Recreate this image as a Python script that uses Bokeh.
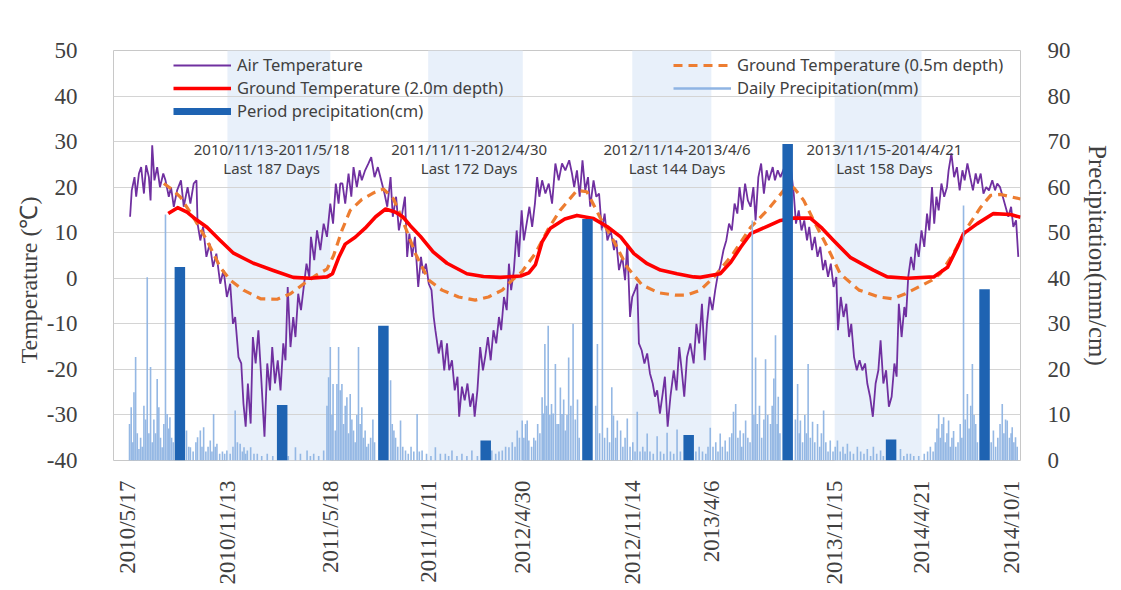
import math
import numpy as np
import pandas as pd
from bokeh.plotting import figure
from bokeh.models import (Range1d, LinearAxis, FixedTicker, Legend, LegendItem,
                          BoxAnnotation, ColumnDataSource, Title)
from bokeh.core.properties import value
from bokeh.embed import file_html
from bokeh.resources import INLINE

# ---------------- data ----------------
START = "2010/5/17"
tick_dates = ["2010/5/17", "2010/11/13", "2011/5/18", "2011/11/11", "2012/4/30",
              "2012/11/14", "2013/4/6", "2013/11/15", "2014/4/21", "2014/10/1"]
freeze_start = ["2010/11/13", "2011/11/11", "2012/11/14", "2013/11/15"]
freeze_end = ["2011/5/18", "2012/4/30", "2013/4/6", "2014/4/21"]
freeze_label_day = [260, 617, 993, 1368]   # centre of each period caption (days from start)

temp_ticks = [-40, -30, -20, -10, 0, 10, 20, 30, 40, 50]
precip_ticks = [0, 10, 20, 30, 40, 50, 60, 70, 80, 90]

# Air temperature (days since 2010/5/17, degC)
air_day = [4, 7, 12, 15, 20, 24, 29, 33, 38, 41, 44, 48, 53, 58, 64, 68, 74, 78, 83, 89, 96, 101, 108, 113,
           119, 124, 126, 131, 136, 142, 148, 154, 160, 167, 173, 179, 185, 190, 194, 200, 205, 209, 213, 217,
           222, 226, 231, 236, 241, 247, 252, 257, 261, 266, 271, 276, 281, 285, 289, 294, 299, 303, 308, 313,
           318, 323, 328, 331, 337, 342, 348, 354, 360, 366, 371, 376, 381, 384,
           388, 393, 399, 404, 408, 414, 419, 423, 429, 435, 440, 446, 452, 458, 464, 469, 475, 479, 485, 490,
           495, 501, 505, 509, 514, 519, 525, 530, 534, 539, 544, 549, 553, 556, 562, 567, 572, 577, 581, 586,
           591, 596, 599, 604, 609, 614, 619, 624, 627, 632, 637, 642, 646, 651, 656, 661, 666, 671, 675, 680,
           685, 689, 693, 698, 703, 707, 712, 716, 721, 726, 731, 736, 740, 744, 749, 755, 761, 767, 773, 779,
           785, 791,
           798, 803, 807, 812, 817, 822, 827, 832, 836, 842, 847, 852, 857, 862, 867, 873, 879, 883, 888, 894,
           899, 903, 908, 912, 917, 921, 924, 929, 934, 939, 944, 949, 953, 957, 962, 967, 971, 976, 981, 987,
           992, 997, 1002, 1006, 1011, 1017, 1023, 1028, 1033, 1038, 1043, 1047, 1052, 1057, 1062, 1067, 1071,
           1077, 1082, 1087, 1092, 1097, 1102, 1106, 1111, 1116, 1121, 1126, 1131, 1135, 1140, 1145, 1150,
           1155, 1159, 1166, 1170, 1175, 1180, 1186, 1192, 1198,
           1204, 1208, 1213, 1218, 1223, 1228, 1232, 1237, 1242, 1247, 1252, 1257, 1261, 1266, 1271, 1276,
           1281, 1284, 1289, 1294, 1299, 1304, 1308, 1313, 1318, 1323, 1328, 1333, 1337, 1342, 1347, 1352,
           1357, 1361, 1366, 1371, 1376, 1381, 1386, 1390, 1394, 1399, 1404, 1407, 1411, 1416, 1421, 1425,
           1430, 1435, 1440, 1445, 1449, 1454, 1458, 1462, 1466, 1471, 1476, 1481, 1484, 1489, 1494, 1499,
           1504, 1509, 1513, 1518, 1523, 1528, 1533, 1537, 1542, 1547, 1552, 1557, 1563, 1568, 1572, 1577,
           1582, 1587, 1592, 1597, 1601, 1606, 1610]
air_temp = [13.5, 19.3, 22.2, 17.9, 23.0, 24.4, 18.6, 24.8, 22.2, 17.1, 29.2, 21.5, 24.4, 20.0, 23.0, 21.5,
            17.9, 20.0, 15.7, 19.3, 21.5, 15.7, 20.0, 16.4, 20.8, 21.5, 12.0, 8.3, 11.3, 4.7, 7.6, 2.5, 5.4,
            -1.2, 1.8, -4.1, -1.2, -10.0, -8.5, -17.3, -18.7, -27.5, -32.6, -23.1, -31.9, -12.9, -18.7, -11.4,
            -21.6, -34.8, -18.7, -24.6, -15.1, -23.1, -18.0, -24.6, -14.3, -18.0, -1.9, -15.1, -8.5, -12.9,
            -3.4, -7.0, -1.9, 3.2, 0.3, 9.1, 4.0, 10.5, 6.2, 12.0, 9.1, 16.4, 12.0, 20.8, 16.4, 20.8,
            20.8, 16.4, 23.0, 17.9, 24.4, 20.0, 23.7, 21.5, 23.7, 25.2, 26.6, 22.2, 24.4, 21.5, 18.6, 15.7,
            22.2, 13.5, 17.9, 10.5, 13.5, 17.9, 4.7, 9.8, 4.7, 9.1, -1.9, 4.7, 1.1, 3.2, -1.2, -2.6, -8.5,
            -11.4, -16.5, -13.6, -20.2, -14.3, -20.2, -18.0, -24.6, -21.6, -30.4, -23.8, -26.8, -23.1, -28.2,
            -25.3, -30.4, -24.6, -15.1, -20.2, -17.3, -12.9, -18.0, -11.4, -14.3, -8.5, -11.4, -4.1, -7.0,
            3.2, -2.6, 1.8, 10.5, 4.7, 14.9, 8.3, 12.0, 15.7, 11.3, 16.4, 22.2, 17.9, 21.5, 18.6, 20.8, 16.4,
            25.2, 21.5, 25.2, 23.7,
            25.9, 23.0, 20.0, 23.7, 17.9, 25.9, 19.3, 22.2, 15.7, 21.5, 17.9, 18.6, 10.5, 14.2, 8.3, 10.5,
            6.2, 8.3, 1.8, 4.7, -0.4, 7.6, -8.5, -4.1, -2.6, -1.2, -14.3, -15.8, -18.7, -16.5, -20.9, -23.1,
            -26.0, -24.6, -29.7, -25.3, -21.6, -32.6, -26.0, -20.2, -24.6, -15.1, -20.9, -26.0, -17.3, -14.3,
            -18.7, -10.0, -14.3, -5.6, -18.0, -10.0, -4.1, -7.0, -2.6, 1.0, 2.5, 6.2, 8.3, 12.0, 10.5, 16.4,
            14.2, 20.0, 15.0, 20.8, 17.1, 15.7, 20.0, 12.7, 22.2, 25.2, 18.6, 23.7, 21.5, 24.4, 21.5, 23.7,
            22.2, 24.0, 21.0, 25.0,
            18.6, 12.0, 14.9, 10.5, 12.7, 8.3, 11.3, 6.2, 9.1, 4.7, 6.9, 1.8, 4.0, 0.3, 3.2, -1.9, 0.3, -11.4,
            -4.1, -8.5, -5.6, -12.9, -10.0, -17.3, -20.2, -18.0, -20.2, -18.7, -23.1, -26.0, -30.4, -23.1,
            -20.2, -13.6, -23.1, -20.2, -28.2, -26.0, -18.7, -21.6, -5.6, -12.9, -6.3, -8.5, 0.3, 4.7, 1.8,
            7.6, 4.7, 10.5, 6.9, 14.2, 10.5, 20.0, 12.0, 17.9, 14.9, 20.8, 17.9, 20.0, 23.7, 27.4, 22.2, 24.4,
            19.3, 23.7, 21.5, 25.2, 22.2, 19.3, 23.0, 20.8, 23.0, 18.6, 20.0, 19.3, 21.5, 19.3, 20.8, 20.0,
            17.9, 15.7, 13.5, 15.7, 11.3, 12.7, 4.7]

# Ground temperature, 2.0 m depth
g20_day = [73, 90, 107, 119, 143, 167, 191, 227, 263, 299, 330, 360, 370, 381, 393, 411, 429, 448, 466,
           484, 497, 511, 529, 552, 577, 613, 643, 673, 710, 725, 737, 749, 764, 790, 812, 842, 867, 891,
           915, 939, 963, 993, 1023, 1035, 1071, 1090, 1108, 1126, 1156, 1180, 1204, 1234, 1255, 1276,
           1306, 1348, 1373, 1410, 1457, 1482, 1500, 1511, 1536, 1565, 1596, 1614]
g20_temp = [14.2, 15.5, 14.5, 13.3, 11.2, 8.3, 5.5, 3.3, 1.7, 0.2, 0.0, 0.3, 1.0, 4.5, 7.5, 9.0, 11.0, 13.5,
            15.2, 14.5, 13.5, 11.5, 9.2, 5.8, 3.3, 1.0, 0.4, 0.2, 0.5, 1.2, 3.0, 8.0, 11.0, 13.0, 13.8, 13.1,
            11.3, 9.1, 5.4, 3.2, 1.8, 1.0, 0.3, 0.2, 1.0, 3.5, 6.8, 9.8, 11.4, 12.7, 13.2, 13.2, 11.0, 8.3,
            4.6, 1.8, 0.3, 0.0, 0.3, 2.4, 6.8, 9.8, 12.0, 14.2, 14.0, 13.4]

# Ground temperature, 0.5 m depth
g05_day = [65, 80, 95, 119, 143, 167, 185, 209, 240, 270, 294, 318, 342, 360, 372, 387, 402, 423, 445,
           462, 480, 496, 520, 544, 568, 598, 628, 652, 677, 695, 713, 737, 761, 782, 812, 830, 854, 878,
           903, 930, 960, 990, 1011, 1035, 1060, 1095, 1126, 1156, 1186, 1204, 1222, 1240, 1265, 1288,
           1322, 1358, 1382, 1406, 1430, 1454, 1469, 1493, 1518, 1542, 1560, 1578, 1614]
g05_temp = [20.8, 19.5, 17.8, 13.3, 8.3, 2.4, -0.4, -2.6, -4.5, -4.6, -3.4, -1.2, 0.8, 2.0, 5.0, 10.5,
            14.9, 17.3, 18.8, 19.6, 17.5, 13.0, 5.4, -0.4, -2.6, -4.1, -4.8, -4.1, -2.6, -0.4, 1.5, 5.5,
            11.0, 15.0, 19.3, 19.0, 13.3, 8.3, 2.4, -1.5, -3.2, -3.7, -3.7, -2.6, 0.3, 5.5, 11.2, 14.9,
            19.3, 19.9, 17.1, 12.7, 6.8, 1.0, -2.6, -4.1, -4.5, -3.4, -1.9, -0.4, 1.0, 5.5, 11.2, 15.6,
            18.2, 18.4, 17.4]

# Daily precipitation (mm)
rain_day = [3, 6, 9, 11, 14, 17, 20, 23, 26, 29, 32, 35, 38, 41, 44, 47, 50, 53, 56, 59, 62, 65, 68, 71,
            74, 76, 79, 82, 106, 110, 113, 118, 123, 126, 131, 134, 137, 141, 145, 149, 152, 155, 158, 161,
            166, 171, 175, 179, 185, 190, 194, 198, 203, 207, 210, 213, 216, 222, 228, 234, 242, 252, 262,
            290, 303, 312, 324, 330, 336, 345, 354, 360, 363, 366, 369, 371, 375, 378, 381, 384, 387, 390,
            393, 396, 399, 402, 405, 408, 411, 414, 417, 420, 423, 426, 429, 432, 435, 439, 443, 446,
            475, 478, 481, 484, 488, 493, 497, 502, 507, 512, 517, 523, 527, 532, 540, 548, 556, 565, 574,
            580, 586, 595, 604, 613, 622, 632, 640, 658, 665, 671, 677, 683, 689, 695, 700, 704, 708, 713,
            716, 719, 722, 725, 730, 734, 737, 741, 745, 749, 751, 754, 757, 760, 763, 766, 769, 773, 776,
            779, 782, 785, 788, 791, 794, 797, 801, 805, 809, 813, 816,
            846, 849, 853, 858, 862, 867, 871, 875, 878, 882, 885, 891, 895, 899, 903, 908, 913, 917, 921,
            926, 931, 935, 939, 944, 950, 957, 963, 969, 975, 981, 987, 993, 999, 1027, 1033, 1039, 1045,
            1049, 1053, 1058, 1063, 1067, 1071, 1075, 1080, 1084, 1088, 1092, 1095, 1099, 1103, 1107, 1110,
            1113, 1117, 1121, 1125, 1129, 1132, 1135, 1138, 1142, 1146, 1150, 1153, 1157, 1162, 1165, 1168,
            1171, 1174, 1176, 1179,
            1207, 1211, 1214, 1216, 1220, 1224, 1227, 1230, 1234, 1238, 1242, 1247, 1251, 1254, 1258, 1262,
            1266, 1270, 1275, 1279, 1283, 1288, 1293, 1297, 1301, 1306, 1312, 1319, 1325, 1331, 1337, 1343,
            1348, 1354, 1361, 1366, 1397, 1403, 1409, 1415, 1421, 1430, 1440, 1446, 1451, 1456, 1460, 1463,
            1466, 1469, 1472, 1475, 1478, 1481, 1484, 1487, 1490, 1493, 1497, 1501, 1505, 1508, 1511, 1514,
            1518, 1521, 1524, 1527, 1530, 1533, 1536, 1561, 1565, 1569, 1573, 1577, 1581, 1584, 1587, 1590,
            1594, 1597, 1599, 1602, 1605, 1608]
rain_mm = [8, 11.7, 4, 15, 22.7, 6, 2.5, 5, 3, 12, 9, 40.2, 6, 20.5, 4, 9, 6, 17.9, 11.7, 5, 2.9, 8, 54,
           10.2, 7, 9.5, 5, 4, 6.6, 3, 2.9, 2, 4, 5.1, 6.6, 3, 7.3, 2, 3, 4.4, 2, 10.2, 3, 3.7, 1.5, 2, 1.5,
           2.2, 1.5, 3, 11, 4, 3.7, 2, 2.9, 1.5, 2.2, 2.9, 1.5, 1.5, 1, 1.5, 1, 1, 2.9, 1.5, 2.2, 1, 1.5, 1,
           2.2, 12, 18.3, 24.9, 10, 16.8, 6.6, 16.8, 24.9, 15.4, 16.8, 8, 12, 13.9, 6, 14.6, 9, 6.6, 4, 10,
           24.9, 8, 11.7, 5, 6.6, 3, 3.7, 5, 9, 4,
           17.6, 8, 6.6, 5, 3, 8.8, 3, 2.2, 1.5, 3, 2, 10.2, 2, 2.2, 1.5, 1, 2.9, 1.5, 1.5, 1, 2.2, 1, 1.5,
           1, 2.2, 1, 1.5, 2.2, 1.5, 2, 2.2, 3, 2.9, 4, 3, 6.6, 5, 8.8, 5, 8, 8.8, 4.4, 3, 5, 4.4, 8, 6,
           13.9, 10.3, 25.6, 12, 29.6, 10, 12.4, 10.3, 21.2, 8, 8, 16, 10.2, 13.4, 6.6, 10, 22.6, 12, 30, 9,
           13.4, 5,
           12, 25.6, 6, 51, 5, 7.2, 4, 16.1, 9.9, 5, 8.8, 6.6, 3, 5, 9.2, 3, 4, 2, 10.7, 2, 3, 2, 5.9, 2,
           1.5, 5.3, 2, 1.5, 6.1, 2, 1.5, 6.8, 2, 2, 3, 2, 1.5, 3, 7.2, 3, 4, 2, 5.9, 3, 4.4, 2, 5.1, 6,
           10.7, 12.4, 5, 6.6, 3, 6, 8.8, 5, 4, 52.7, 10, 22.6, 8, 12, 5, 9, 22.2, 10, 8, 12, 18, 27.5, 8,
           14, 6,
           9, 16.8, 6, 8.8, 4, 10, 6, 21.2, 5, 8.5, 4, 8, 3, 6, 11, 4, 2, 4.4, 2, 3, 4.4, 2, 3, 1.5, 3.7,
           2, 1.5, 3, 2, 1.5, 2.5, 1, 3, 1.5, 2.2, 1, 2.5, 1, 1.5, 1.5, 1, 1, 1.5, 2, 3, 2, 4, 7, 10.2, 5,
           8, 9.5, 4, 6, 8.8, 3, 5, 6.5, 3, 4, 8, 5, 56, 9, 14.6, 7, 12, 21.2, 10, 8, 4, 4, 6.6, 3, 5, 8,
           12.4, 6, 9, 8.8, 5, 6, 7.3, 4, 5.1, 3]

# Period precipitation (cm)
period_day = [94, 279, 462, 647, 831, 1014, 1193, 1380, 1549]
period_cm = [42.5, 12.2, 29.6, 4.4, 53.0, 5.6, 69.5, 4.6, 37.6]

# ---------------- helpers ----------------
t0 = pd.to_datetime(START, format="%Y/%m/%d")


def dday(s):
    return int((pd.to_datetime(s, format="%Y/%m/%d") - t0).days)


tick_days = [dday(s) for s in tick_dates]

SERIF = "Liberation Serif"
SANS = "Noto Sans"
TXT = "#404040"

p = figure(width=1121, height=590, output_backend="svg", toolbar_location=None,
           x_range=Range1d(-26, 1614), y_range=Range1d(-40, 50),
           min_border_left=113, min_border_right=101, min_border_top=50, min_border_bottom=130)
p.outline_line_color = "#c8c8c8"
p.background_fill_color = "white"
p.border_fill_color = "white"

# freezing-period bands
for s, e in zip(freeze_start, freeze_end):
    p.add_layout(BoxAnnotation(left=dday(s), right=dday(e), fill_color="#e8f0fa",
                               fill_alpha=1.0, line_color=None, level="image"))

# grid
p.xgrid.visible = False
p.ygrid.ticker = FixedTicker(ticks=temp_ticks)
p.ygrid.grid_line_color = "#d4d4d4"
p.ygrid.grid_line_width = 1

# lines
r_air = p.line(air_day, air_temp, line_color="#7030a0", line_width=1.8)
r_g05 = p.line(g05_day, g05_temp, line_color="#ed7d31", line_width=3.2, line_dash="9 6")
r_g20 = p.line(g20_day, g20_temp, line_color="#ff0000", line_width=3.6, line_join="round")

# precipitation on secondary axis
p.extra_y_ranges = {"precip": Range1d(0, 90)}
p.vbar(x=rain_day, top=rain_mm, bottom=0, width=2.9, fill_color="#8fb4e3", line_color=None,
       fill_alpha=0.95, y_range_name="precip")
p.vbar(x=period_day, top=period_cm, bottom=0, width=19, fill_color="#1e63b2", line_color=None,
       y_range_name="precip")

# proxies for legend glyphs (no visible data)
r_period_leg = p.line(x=[np.nan], y=[np.nan], line_color="#1e63b2", line_width=7)
r_daily_leg = p.line(x=[np.nan], y=[np.nan], line_color="#8fb4e3", line_width=2.5)

# axes
p.xaxis.ticker = FixedTicker(ticks=tick_days)
p.xaxis.major_label_overrides = {d: s for d, s in zip(tick_days, tick_dates)}
p.xaxis.major_label_orientation = math.pi / 2
p.xaxis.major_label_standoff = 14

p.yaxis.ticker = FixedTicker(ticks=temp_ticks)
p.yaxis.major_label_overrides = {t: str(t) for t in temp_ticks}
p.yaxis.major_label_standoff = 30

ax_r = LinearAxis(y_range_name="precip", ticker=FixedTicker(ticks=precip_ticks),
                  axis_label="Precipitation(mm/cm)")
p.add_layout(ax_r, "right")

for ax in [p.xaxis[0], p.yaxis[0], ax_r]:
    ax.axis_line_color = None
    ax.major_tick_line_color = None
    ax.minor_tick_line_color = None
    ax.major_label_text_font = SERIF
    ax.major_label_text_font_size = "23px"
    ax.major_label_text_color = TXT
    ax.axis_label_text_font = SERIF
    ax.axis_label_text_font_style = "normal"
    ax.axis_label_text_color = TXT
ax_r.axis_label_text_font_size = "25px"
ax_r.major_label_standoff = 21
ax_r.axis_label_standoff = 10

# left axis title, a little below centre as in the original
p.add_layout(Title(text="Temperature (℃)", align="left", offset=97,
                   text_font=SERIF, text_font_size="24px", text_font_style="normal",
                   text_color=TXT, standoff=4), "left")

# period captions
cap_src = ColumnDataSource(dict(
    x=freeze_label_day,
    t1=[f"{s}-{e}" for s, e in zip(freeze_start, freeze_end)],
    t2=[f"Last {dday(e) - dday(s) + 1} Days" for s, e in zip(freeze_start, freeze_end)],
    y1=[28.3] * 4, y2=[24.2] * 4))
p.text(x="x", y="y1", text="t1", source=cap_src, text_font=value(SANS), text_font_size="15px",
       text_color=TXT, text_align="center", text_baseline="middle")
p.text(x="x", y="y2", text="t2", source=cap_src, text_font=value(SANS), text_font_size="15px",
       text_color=TXT, text_align="center", text_baseline="middle")


# legends
def make_legend(items, loc):
    lg = Legend(items=items, location=loc, orientation="vertical")
    lg.background_fill_alpha = 0
    lg.border_line_alpha = 0
    lg.padding = 0
    lg.margin = 0
    lg.spacing = 0
    lg.glyph_width = 58
    lg.glyph_height = 20
    lg.label_height = 20
    lg.label_standoff = 6
    lg.label_text_font = SANS
    lg.label_text_font_size = "16.5px"
    lg.label_text_color = TXT
    return lg


leg1 = make_legend([LegendItem(label="Air Temperature", renderers=[r_air]),
                    LegendItem(label="Ground Temperature (2.0m depth)", renderers=[r_g20]),
                    LegendItem(label="Period precipitation(cm)", renderers=[r_period_leg])],
                   (60, 338))
leg2 = make_legend([LegendItem(label="Ground Temperature (0.5m depth)", renderers=[r_g05]),
                    LegendItem(label="Daily Precipitation(mm)", renderers=[r_daily_leg])],
                   (560, 361))
p.add_layout(leg1)
p.add_layout(leg2)

open("out.html", "w").write(file_html(p, INLINE))
